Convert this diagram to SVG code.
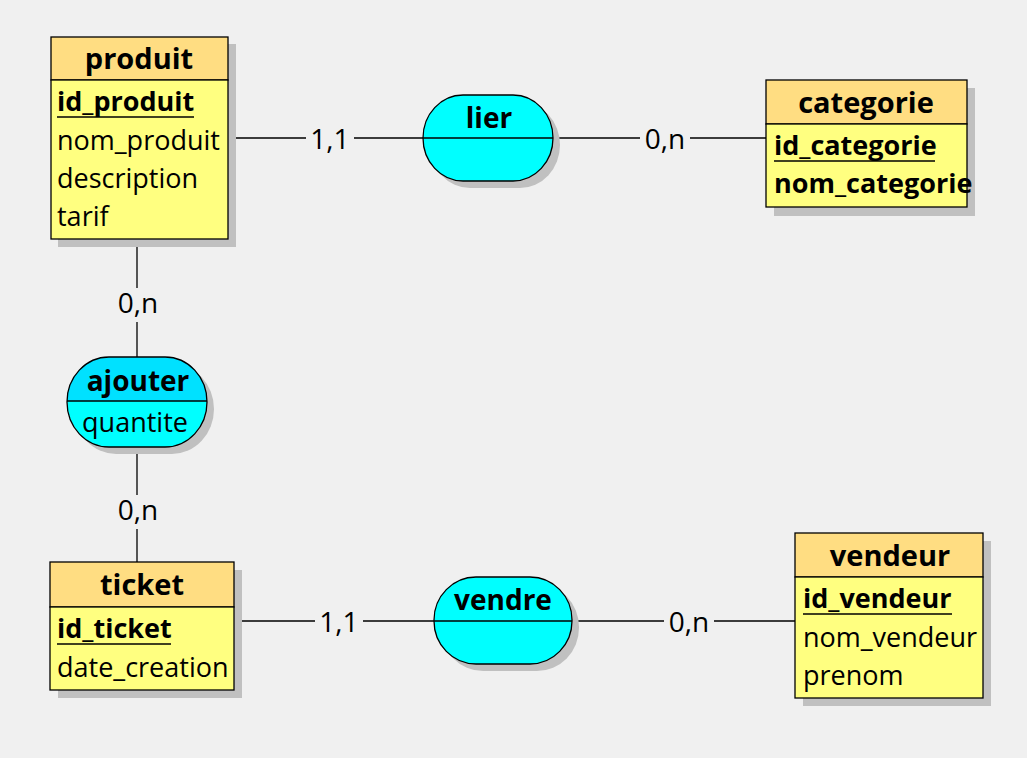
<svg xmlns="http://www.w3.org/2000/svg" width="1027" height="758" viewBox="0 0 1027 758">
<style>
text{font-family:"Segoe UI","Open Sans","Noto Sans",sans-serif;fill:#000}
.t{font-size:29px;font-weight:bold;text-anchor:middle}
.r{font-size:28px;font-weight:bold;text-anchor:middle}
.a{font-size:27px}
.k{font-size:27px;font-weight:bold}
.q{font-size:27px;text-anchor:middle}
.c{font-size:28px;text-anchor:middle}
.sh{fill:#C0C0C0}
.hd{fill:#FFDD82;stroke:#000;stroke-width:1.3}
.bd{fill:#FFFF80;stroke:#000;stroke-width:1.3}
.as{fill:#00FFFF;stroke:#000;stroke-width:1.3}
.ln{stroke:#000;stroke-width:1.3;fill:none}
.lb{fill:#F0F0F0}
</style>
<rect width="1027" height="758" fill="#F0F0F0"/>
<g id="connectors">
<line class="ln" x1="228" y1="138" x2="423" y2="138"/>
<line class="ln" x1="553" y1="138" x2="766" y2="138"/>
<line class="ln" x1="137" y1="239" x2="137" y2="357"/>
<line class="ln" x1="137" y1="447" x2="137" y2="562"/>
<line class="ln" x1="234" y1="621" x2="434" y2="621"/>
<line class="ln" x1="572" y1="621" x2="795" y2="621"/>
<rect class="lb" x="306" y="124" width="48" height="32"/>
<text class="c" x="330" y="149">1,1</text>
<rect class="lb" x="640" y="124" width="50" height="32"/>
<text class="c" x="665" y="149">0,n</text>
<rect class="lb" x="113" y="288" width="50" height="34"/>
<text class="c" x="138" y="313">0,n</text>
<rect class="lb" x="113" y="495" width="50" height="34"/>
<text class="c" x="138" y="520">0,n</text>
<rect class="lb" x="315" y="607" width="48" height="32"/>
<text class="c" x="339" y="632">1,1</text>
<rect class="lb" x="664" y="607" width="50" height="32"/>
<text class="c" x="689" y="632">0,n</text>
</g>
<g id="produit">
<rect class="sh" x="58" y="44" width="178" height="203"/>
<rect class="hd" x="51" y="37" width="177" height="43"/>
<rect class="bd" x="51" y="80" width="177" height="159"/>
<text class="t" x="139" y="69">produit</text>
<text class="k" x="57" y="111">id_produit</text>
<line class="ln" x1="57" y1="117" x2="194" y2="117"/>
<text class="a" x="57" y="150">nom_produit</text>
<text class="a" x="57" y="188">description</text>
<text class="a" x="57" y="226">tarif</text>
</g>
<g id="categorie">
<rect class="sh" x="774" y="88" width="201" height="128"/>
<rect class="hd" x="766" y="80" width="201" height="44"/>
<rect class="bd" x="766" y="124" width="201" height="83"/>
<text class="t" x="866" y="113">categorie</text>
<text class="k" x="774" y="155">id_categorie</text>
<line class="ln" x1="774" y1="161" x2="935" y2="161"/>
<text class="k" x="774" y="193">nom_categorie</text>
</g>
<g id="ticket">
<rect class="sh" x="58" y="570" width="184" height="128"/>
<rect class="hd" x="50" y="562" width="184" height="45"/>
<rect class="bd" x="50" y="607" width="184" height="83"/>
<text class="t" x="142" y="595">ticket</text>
<text class="k" x="57" y="638">id_ticket</text>
<line class="ln" x1="57" y1="644" x2="171" y2="644"/>
<text class="a" x="57" y="677">date_creation</text>
</g>
<g id="vendeur">
<rect class="sh" x="803" y="541" width="188" height="165"/>
<rect class="hd" x="795" y="533" width="188" height="44"/>
<rect class="bd" x="795" y="577" width="188" height="121"/>
<text class="t" x="890" y="566">vendeur</text>
<text class="k" x="803" y="608">id_vendeur</text>
<line class="ln" x1="803" y1="614" x2="952" y2="614"/>
<text class="a" x="803" y="647">nom_vendeur</text>
<text class="a" x="803" y="685">prenom</text>
</g>
<g id="lier">
<rect class="sh" x="430" y="102" width="130" height="86" rx="40" ry="43"/>
<rect class="as" x="423" y="95" width="130" height="86" rx="40" ry="43"/>
<line class="ln" x1="423" y1="138" x2="553" y2="138"/>
<text class="r" x="489" y="128">lier</text>
</g>
<g id="ajouter">
<rect class="sh" x="74" y="364" width="140" height="90" rx="42" ry="45"/>
<path d="M109 357 H165 A42 44 0 0 1 207 401 H67 A42 44 0 0 1 109 357 Z" fill="#00E1FF"/>
<path d="M67 401 H207 A42 46 0 0 1 165 447 H109 A42 46 0 0 1 67 401 Z" fill="#00FFFF"/>
<rect x="67" y="357" width="140" height="90" rx="42" ry="45" fill="none" stroke="#000" stroke-width="1.3"/>
<line class="ln" x1="67" y1="401" x2="207" y2="401"/>
<text class="r" x="138" y="391">ajouter</text>
<text class="q" x="135" y="432">quantite</text>
</g>
<g id="vendre">
<rect class="sh" x="441" y="584" width="138" height="87" rx="42" ry="43"/>
<rect class="as" x="434" y="577" width="138" height="87" rx="42" ry="43"/>
<line class="ln" x1="434" y1="621" x2="572" y2="621"/>
<text class="r" x="503" y="610">vendre</text>
</g>
</svg>
